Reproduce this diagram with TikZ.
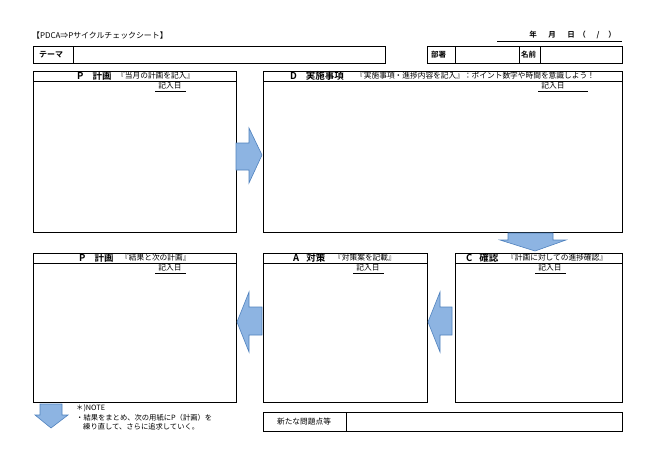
\documentclass[tikz,border=0pt]{standalone}
\usepackage{fontspec}
\setmainfont{Noto Sans CJK JP}[BoldFont={Noto Sans CJK JP Bold}]
\usepackage{tikz}
\usetikzlibrary{positioning}

\definecolor{arrowfill}{RGB}{141,180,226}
\definecolor{arrowline}{RGB}{79,129,189}

\tikzset{
    panel/.style={draw, line width=1pt, anchor=north west, inner sep=0pt},
    small/.style={font=\fontsize{7.7}{8}\selectfont, inner sep=0pt},
    headtxt/.style={font=\fontsize{9.5}{10}\selectfont\bfseries, inner sep=0pt, anchor=west},
    notetxt/.style={font=\fontsize{7.3}{8}\selectfont, inner sep=0pt, anchor=west},
    datetxt/.style={font=\fontsize{7.5}{8}\selectfont\bfseries, inner sep=0pt},
    blockarrow/.style={fill=arrowfill, draw=arrowline, line width=0.6pt, line join=miter}
}

\begin{document}
\begin{tikzpicture}[x=1pt, y=-1pt]
    \useasboundingbox (0,0) rectangle (650,459);

    % title and date
    \node[small, anchor=west, font=\fontsize{7.9}{8}\selectfont] (title) at (32,35) {【PDCA⇒Pサイクルチェックシート】};
    \coordinate (dl) at (497,41);
    \coordinate (dr) at (622,41);
    \draw[line width=0.8pt] (dl) -- (dr);
    \node[datetxt] (yy) at (533,35) {年};
    \node[datetxt] (mm) at (552,35) {月};
    \node[datetxt] (dd) at (571,35) {日};
    \node[datetxt] (lp) at (582,35) {（};
    \node[datetxt] (sl) at (598,35) {/};
    \node[datetxt] (rp) at (612,35) {）};

    % theme / dept / name
    \node[panel, minimum width=352pt, minimum height=17pt] (theme) at (33,46) {};
    \draw[line width=1pt] (73,46) -- (73,63);
    \node[headtxt, font=\fontsize{8}{8}\selectfont\bfseries] (themelbl) at (39,55) {テーマ};
    \node[panel, minimum width=195pt, minimum height=17pt] (dept) at (427,46) {};
    \draw[line width=1pt] (455,46) -- (455,63);
    \draw[line width=1pt] (519,46) -- (519,63);
    \draw[line width=1pt] (540,46) -- (540,63);
    \node[headtxt, font=\fontsize{7.5}{8}\selectfont\bfseries] (deptlbl) at (431,55) {部署};
    \node[headtxt, font=\fontsize{7.5}{8}\selectfont\bfseries] (namelbl) at (521,55) {名前};

    % upper panels
    \node[panel, minimum width=203pt, minimum height=161pt] (plan) at (33,71) {};
    \node[panel, minimum width=359pt, minimum height=161pt] (doit) at (263,71) {};
    \draw[line width=1pt] (33,81) -- (236,81);
    \draw[line width=1pt] (263,81) -- (622,81);
    \node[headtxt] (planhd) at (77,76) {P\hspace{9pt}計画};
    \node[small, anchor=west] (plansub) at (117,76) {『当月の計画を記入』};
    \node[headtxt] (doithd) at (290,76) {D\hspace{9pt}実施事項};
    \node[small, anchor=west] (doitsub) at (356,76) {『実施事項・進捗内容を記入』：ポイント数字や時間を意識しよう！};
    \node[small] (plandate) at (170,86) {記入日};
    \draw[line width=0.6pt] (155,91) -- (186,91);
    \node[small] (doitdate) at (553,86) {記入日};
    \draw[line width=0.6pt] (538,91) -- (588,91);

    % lower panels
    \node[panel, minimum width=203pt, minimum height=149pt] (next) at (33,253) {};
    \node[panel, minimum width=164pt, minimum height=149pt] (act) at (263,253) {};
    \node[panel, minimum width=167pt, minimum height=149pt] (check) at (455,253) {};
    \draw[line width=1pt] (33,263) -- (236,263);
    \draw[line width=1pt] (263,263) -- (427,263);
    \draw[line width=1pt] (455,263) -- (622,263);
    \node[headtxt] (nexthd) at (79,258) {P\hspace{9pt}計画};
    \node[small, anchor=west] (nextsub) at (121,258) {『結果と次の計画』};
    \node[headtxt] (acthd) at (293,258) {A\hspace{7pt}対策};
    \node[small, anchor=west] (actsub) at (334,258) {『対策案を記載』};
    \node[headtxt] (checkhd) at (466,258) {C\hspace{7pt}確認};
    \node[small, anchor=west] (checksub) at (507,258) {『計画に対しての進捗確認』};
    \node[small] (nextdate) at (170,268) {記入日};
    \draw[line width=0.6pt] (155,273) -- (186,273);
    \node[small] (actdate) at (368,268) {記入日};
    \draw[line width=0.6pt] (353,273) -- (384,273);
    \node[small] (checkdate) at (550,268) {記入日};
    \draw[line width=0.6pt] (535,273) -- (566,273);

    % block arrows
    \draw[blockarrow] (236,143) -- (249,143) -- (249,128) -- (262,155) -- (249,183) -- (249,170) -- (236,170) -- cycle;
    \draw[blockarrow] (508,233) -- (553,233) -- (553,240) -- (566,240) -- (535,251) -- (500,240) -- (508,240) -- cycle;
    \draw[blockarrow] (452,307) -- (440,307) -- (440,292) -- (428,322) -- (440,352) -- (440,335) -- (452,335) -- cycle;
    \draw[blockarrow] (262,307) -- (249,307) -- (249,292) -- (237,322) -- (249,352) -- (249,335) -- (262,335) -- cycle;
    \draw[blockarrow] (40,404) -- (62,404) -- (62,415) -- (68,415) -- (51,428) -- (35,415) -- (40,415) -- cycle;

    % note
    \node[notetxt] (note1) at (76,408) {＊)NOTE};
    \node[notetxt] (note2) at (76,418) {・結果をまとめ、次の用紙にP（計画）を};
    \node[notetxt] (note3) at (76,427) {\hspace{7pt}練り直して、さらに追求していく。};

    % new issues
    \node[panel, minimum width=359pt, minimum height=19pt] (issue) at (263,412) {};
    \draw[line width=1pt] (346,412) -- (346,431);
    \node[small] (issuelbl) at (304,421.5) {新たな問題点等};
\end{tikzpicture}
\end{document}
